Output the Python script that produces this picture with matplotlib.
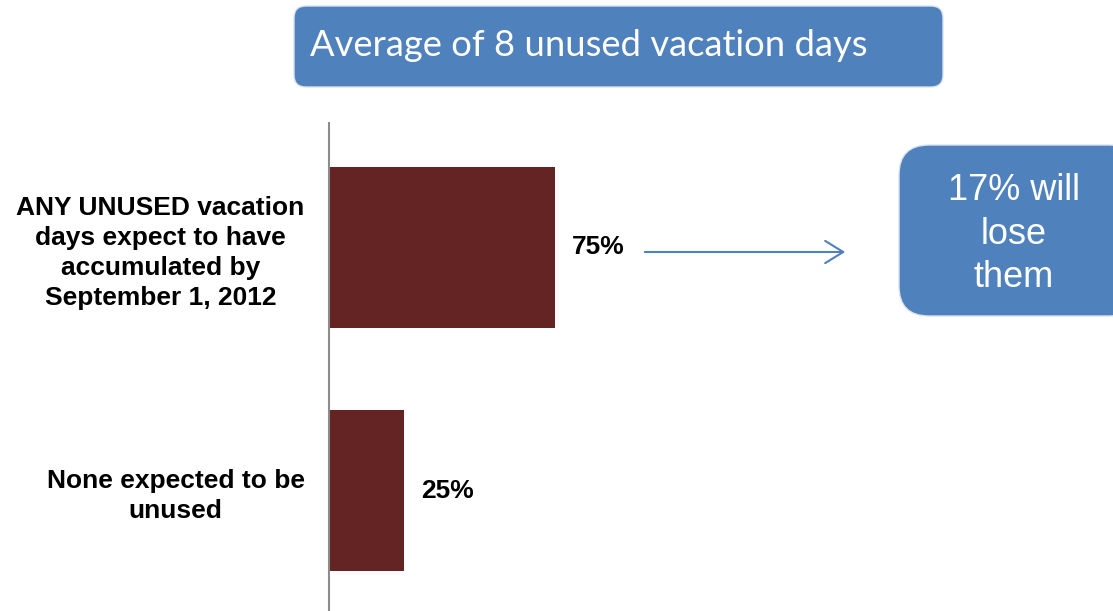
import matplotlib
matplotlib.use("Agg")
import matplotlib.pyplot as plt
from matplotlib.patches import FancyBboxPatch

categories = ["ANY UNUSED vacation\ndays expect to have\naccumulated by\nSeptember 1, 2012",
              "None expected to be\nunused"]
values = [75, 25]
value_labels = ["75%", "25%"]
title_text = "Average of 8 unused vacation days"
callout_text = "17% will\nlose\nthem"

BAR = "#632423"
BLUE = "#4F81BD"
W, H = 1113, 611

fig = plt.figure(figsize=(W / 100, H / 100), dpi=100)
fig.patch.set_facecolor("white")

# main chart axes: left spine at x=329 px, from y=123 to 610 px
ax_left = 329 / W
ax_bottom = 1 / H
ax_height = (610 - 123) / H
ax_width = 301 / W
ax = fig.add_axes([ax_left, ax_bottom, ax_width, ax_height])

ypos = list(range(len(categories)))
ax.barh(ypos, values, height=0.66, color=BAR)
ax.set_xlim(0, 100)
ax.set_ylim(1.49, -0.51)
ax.set_yticks(ypos, categories)
ax.tick_params(axis="y", length=0, pad=17.5)
for lab in ax.get_yticklabels():
    lab.set_fontfamily("Liberation Sans")
    lab.set_fontweight("bold")
    lab.set_fontsize(19)
    lab.set_multialignment("center")
    lab.set_linespacing(1.32)
ax.set_xticks([])
for s in ["top", "right", "bottom"]:
    ax.spines[s].set_visible(False)
ax.spines["left"].set_color("#8C8C8C")
ax.spines["left"].set_linewidth(1.5)

for yi, v, t in zip(ypos, values, value_labels):
    ax.annotate(t, xy=(v, yi), xytext=(12, 0), textcoords="offset points",
                ha="left", va="center", fontsize=19, fontweight="bold",
                fontfamily="Liberation Sans", color="black")

# overlay axes in pixel coordinates for callouts
ov = fig.add_axes([0, 0, 1, 1], facecolor="none")
ov.set_xlim(0, W)
ov.set_ylim(H, 0)
ov.axis("off")

top_box = FancyBboxPatch((294 + 12, 6 + 12), 649 - 24, 81 - 24,
                         boxstyle="round,pad=12", fc=BLUE, ec="#D9E2EE", lw=1.0)
ov.add_patch(top_box)
ov.text(310, 46, title_text, ha="left", va="center", color="white",
        fontsize=26.2, fontfamily="Lato")

right_box = FancyBboxPatch((899 + 30, 145 + 30), 240 - 60, 171 - 60,
                           boxstyle="round,pad=30", fc=BLUE, ec="#D9E2EE", lw=1.0)
ov.add_patch(right_box)
ov.text(1014, 234, callout_text, ha="center", va="center", color="white",
        fontsize=26, fontfamily="Liberation Sans", linespacing=1.32)

ov.annotate("", xy=(848, 252), xytext=(642, 252),
            arrowprops=dict(arrowstyle="->,head_length=1.3,head_width=0.8",
                            color=BLUE, lw=1.5))

fig.savefig("out.png", dpi=100, facecolor="white")
